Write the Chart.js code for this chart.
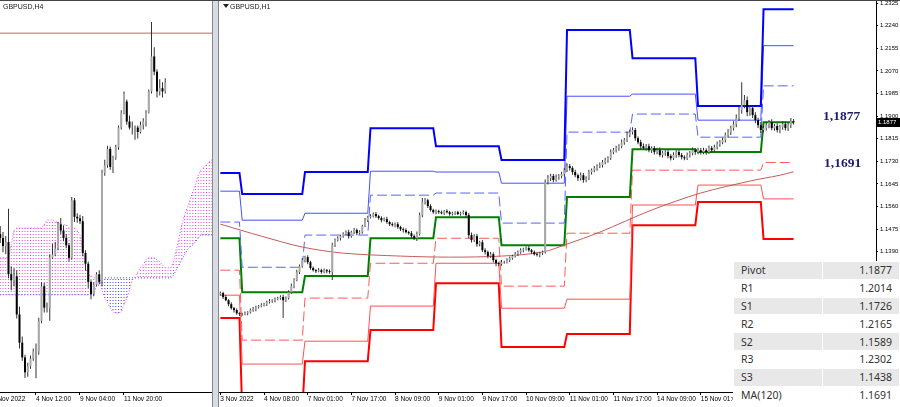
<!DOCTYPE html>
<html>
<head>
<meta charset="utf-8">
<script src="https://cdn.jsdelivr.net/npm/chart.js@4.4.0/dist/chart.umd.min.js"></script>
<style>
  html, body { margin: 0; padding: 0; background: #fff; }
  #wrap { position: relative; width: 900px; height: 407px; overflow: hidden; font-family: "Liberation Sans", Arial, sans-serif; }
  #h4box { position: absolute; left: 0; top: 0; width: 212px; height: 407px; }
  #h1box { position: absolute; left: 219px; top: 0; width: 681px; height: 407px; }
  #splitter { position: absolute; left: 212px; top: 0; width: 7px; height: 407px; background: #d8dce6;
              border-left: 1px solid #888; border-right: 1px solid #888; box-sizing: border-box; }
  #topline { position: absolute; left: 0; top: 0; width: 900px; height: 1px; background: #444; }
  .title { position: absolute; font-size: 7px; line-height: 9px; color: #222; white-space: nowrap; }
  #tri { position: absolute; left: 223px; top: 4px; width: 0; height: 0;
         border-left: 3px solid transparent; border-right: 3px solid transparent; border-top: 4px solid #222; }
  .note { position: absolute; font: bold 13.5px "Liberation Serif", "Times New Roman", serif; color: #1c1c6e; line-height: 16px; }
  #pricebox { position: absolute; left: 876px; top: 118px; width: 24px; height: 9px; background: #000; color: #fff;
              font-size: 6px; line-height: 9px; padding-left: 2px; box-sizing: border-box; }
  #piv { position: absolute; left: 733px; top: 261px; width: 167px; border-collapse: collapse;
         font: 10.5px "Noto Sans", sans-serif; color: #333; background: #fff; }
  #piv td { height: 17.8px; padding: 0 7px; border: 1px solid #fff; box-sizing: border-box; }
  #piv td.v { text-align: right; }
  #piv tr.g td { background: #e8e8e8; }
</style>
</head>
<body>
<div id="wrap">
  <div id="h4box"><canvas id="h4" width="212" height="407"></canvas></div>
  <div id="splitter"></div>
  <div id="h1box"><canvas id="h1" width="681" height="407"></canvas></div>
  <div id="topline"></div>
  <div class="title" style="left:3px;top:2px">GBPUSD,H4</div>
  <div id="tri"></div>
  <div class="title" style="left:230px;top:2px">GBPUSD,H1</div>
  <div class="note" style="left:823px;top:108px">1,1877</div>
  <div class="note" style="left:824px;top:155px">1,1691</div>
  <div id="pricebox">1.1877</div>
  <table id="piv"></table>
</div>
<script>
// ---------------- H1 panel data ----------------
const h1FirstOpen = 1.1230;

// hourly closes, 3 Nov 16:00 .. 16 Nov
const h1Close = [
  1.1235, 1.1220, 1.1208, 1.1193, 1.1178, 1.1171, 1.1159, 1.1156,
  1.1156, 1.1159, 1.1163, 1.1171, 1.1175, 1.1182, 1.1186, 1.1190, 1.1193, 1.1201, 1.1205, 1.1208, 1.1212, 1.1216, 1.1220, 1.1208, 1.1216, 1.1238, 1.1261, 1.1284, 1.1314, 1.1336, 1.1359, 1.1370,
  1.1351, 1.1329, 1.1321, 1.1317, 1.1321, 1.1314, 1.1321, 1.1317, 1.1314, 1.1415, 1.1434, 1.1441, 1.1449, 1.1457, 1.1464, 1.1449, 1.1464, 1.1472, 1.1460, 1.1464, 1.1487, 1.1509, 1.1520, 1.1524,
  1.1532, 1.1524, 1.1517, 1.1509, 1.1513, 1.1502, 1.1494, 1.1490, 1.1494, 1.1483, 1.1475, 1.1472, 1.1464, 1.1460, 1.1449, 1.1441, 1.1457, 1.1528, 1.1577, 1.1584, 1.1562, 1.1547, 1.1539, 1.1543,
  1.1539, 1.1535, 1.1543, 1.1539, 1.1532, 1.1535, 1.1539, 1.1532, 1.1535, 1.1539, 1.1528, 1.1453, 1.1434, 1.1449, 1.1419, 1.1426, 1.1396, 1.1389, 1.1374, 1.1381, 1.1359, 1.1347, 1.1344, 1.1351,
  1.1351, 1.1359, 1.1366, 1.1374, 1.1381, 1.1389, 1.1396, 1.1400, 1.1404, 1.1396, 1.1389, 1.1381, 1.1378, 1.1385, 1.1389, 1.1652, 1.1667, 1.1675, 1.1660, 1.1671, 1.1675, 1.1682, 1.1697, 1.1712,
  1.1705, 1.1690, 1.1678, 1.1667, 1.1678, 1.1660, 1.1667, 1.1690, 1.1697, 1.1705, 1.1712, 1.1716, 1.1727, 1.1735, 1.1742, 1.1765, 1.1772, 1.1780, 1.1787, 1.1802, 1.1810, 1.1829, 1.1840, 1.1848,
  1.1817, 1.1802, 1.1787, 1.1780, 1.1787, 1.1772, 1.1780, 1.1765, 1.1772, 1.1754, 1.1761, 1.1765, 1.1750, 1.1742, 1.1754, 1.1765, 1.1754, 1.1746, 1.1742, 1.1754, 1.1761, 1.1772, 1.1765, 1.1772,
  1.1765, 1.1772, 1.1765, 1.1780, 1.1772, 1.1784, 1.1795, 1.1802, 1.1810, 1.1829, 1.1840, 1.1855, 1.1870, 1.1893, 1.1923, 1.1942, 1.1960, 1.1915, 1.1930, 1.1904, 1.1885, 1.1866, 1.1848, 1.1855,
  1.1866, 1.1877, 1.1855, 1.1863, 1.1848, 1.1859, 1.1870, 1.1855, 1.1866, 1.1881, 1.1877
];

// wick lengths in pips above / below the candle body
const h1WickUp = [
  6,5,8,4,7,5,6,4,
  5,7,4,6,8,5,4,7,6,5,8,4,6,5,7,9,6,8,10,7,9,6,8,5,
  7,5,6,4,8,5,6,4,7,9,6,8,5,7,6,9,5,8,6,7,5,8,6,7,
  6,8,5,7,6,9,5,7,6,8,5,6,7,5,8,6,9,10,15,8,6,7,5,6,
  5,6,4,7,5,6,4,5,6,7,5,8,10,7,9,6,8,7,6,8,7,5,6,8,
  5,7,6,5,8,6,7,5,6,8,5,6,7,5,6,10,12,9,8,10,7,9,8,10,
  8,7,9,6,10,8,7,9,6,8,7,10,8,9,7,10,8,9,7,10,8,12,9,10,
  8,7,9,10,8,9,7,8,9,10,8,7,9,8,10,7,9,8,7,9,8,10,7,9,
  8,9,7,10,8,9,10,8,9,10,12,9,11,13,12,86,20,14,12,10,11,9,12,10,
  10,9,11,8,10,9,11,10,9,12,8
];
const h1WickDown = [
  5,7,4,8,5,9,6,7,
  6,4,7,5,6,8,5,4,6,7,5,6,8,4,6,67,7,5,6,8,5,7,6,9,
  8,6,5,7,4,6,5,8,6,30,7,5,8,6,5,9,6,7,8,5,6,4,7,5,
  5,7,6,8,5,6,7,5,8,6,7,9,5,6,8,7,10,6,8,9,7,5,6,8,
  6,4,7,5,6,5,7,4,6,5,8,12,9,7,10,8,7,9,8,6,9,11,8,6,
  6,5,7,6,5,7,6,8,5,6,7,5,6,8,7,5,9,11,8,7,10,8,9,7,
  9,10,8,11,9,10,8,7,9,8,10,7,9,8,10,7,8,9,10,8,9,7,8,9,
  9,8,10,7,9,8,10,9,8,7,9,10,8,9,7,10,8,9,8,7,9,8,10,8,
  9,8,10,7,9,8,9,10,8,9,10,11,9,12,10,14,12,15,13,11,12,10,11,9,
  9,11,8,10,9,12,10,9,11,10,8
];

// first bar of each trading day (3,4,7,8,9,10,11,14,15,16 Nov)
const h1DayStart = [0, 8, 31, 55, 79, 103, 127, 151, 175, 199];
const h1LastBar = 210;

// daily pivot levels
const pivR3 = [1.1686, 1.1607, 1.1690, 1.1855, 1.1787, 1.1735, 1.2224, 1.2118, 1.1938, 1.2302];
const pivR2 = [1.1618, 1.1509, 1.1535, 1.1693, 1.1690, 1.1648, 1.1975, 1.1983, 1.1885, 1.2165];
const pivR1 = [1.1502, 1.1332, 1.1453, 1.1603, 1.1611, 1.1498, 1.1840, 1.1908, 1.1821, 1.2014];
const pivP  = [1.1441, 1.1238, 1.1299, 1.1441, 1.1520, 1.1415, 1.1596, 1.1776, 1.1765, 1.1877];
const pivS1 = [1.1321, 1.1058, 1.1216, 1.1347, 1.1441, 1.1261, 1.1460, 1.1697, 1.1697, 1.1726];
const pivS2 = [1.1227, 1.0968, 1.1054, 1.1186, 1.1347, 1.1178, 1.1212, 1.1566, 1.1641, 1.1589];
const pivS3 = [1.1141, 1.0787, 1.0979, 1.1096, 1.1272, 1.1032, 1.1081, 1.1490, 1.1577, 1.1438];

// MA(120) read at a set of bars
const maBars   = [0, 15, 30, 45, 66, 84, 103, 118, 127, 139, 158, 176, 194, 205, 210];
const maValues = [1.1494, 1.1449, 1.1408, 1.1385, 1.1374, 1.1370, 1.1374, 1.1389, 1.1419, 1.1464, 1.1547, 1.1611, 1.1656, 1.1678, 1.1691];

const h1TickBars = [0, 16, 32, 48, 64, 80, 96, 112, 128, 144, 160, 176];
const h1TickLabels = ['3 Nov 2022', '4 Nov 08:00', '7 Nov 01:00', '7 Nov 17:00', '8 Nov 09:00', '9 Nov 01:00',
                      '9 Nov 17:00', '10 Nov 09:00', '11 Nov 01:00', '11 Nov 17:00', '14 Nov 09:00', '15 Nov 01:00'];
const priceTicks = [1.2325, 1.2240, 1.2155, 1.2070, 1.1985, 1.1900, 1.1815, 1.1730, 1.1645, 1.1560,
                    1.1475, 1.1390, 1.1305, 1.1220, 1.1135, 1.1050, 1.0965, 1.0880];

// ---------------- H4 panel data ----------------
const h4Open = [
  1.1500, 1.1490, 1.1470, 1.1480, 1.1400, 1.1385, 1.1395, 1.1300, 1.1230, 1.1193,
  1.1156, 1.1171, 1.1190, 1.1208, 1.1208, 1.1284, 1.1370, 1.1317, 1.1317, 1.1441,
  1.1449, 1.1464, 1.1524, 1.1509, 1.1490, 1.1472, 1.1441, 1.1584, 1.1543, 1.1539,
  1.1532, 1.1453, 1.1426, 1.1381, 1.1351, 1.1374, 1.1400, 1.1381, 1.1652, 1.1671,
  1.1712, 1.1667, 1.1690, 1.1716, 1.1765, 1.1802, 1.1830, 1.1780, 1.1765, 1.1765,
  1.1765, 1.1754, 1.1772, 1.1780, 1.1802, 1.1855, 1.1942, 1.1904, 1.1855, 1.1863, 1.1855
];
const h4High = [
  1.1520, 1.1505, 1.1495, 1.1563, 1.1420, 1.1415, 1.1410, 1.1320, 1.1245, 1.1200,
  1.1180, 1.1198, 1.1215, 1.1228, 1.1292, 1.1380, 1.1378, 1.1330, 1.1450, 1.1475,
  1.1480, 1.1530, 1.1540, 1.1520, 1.1500, 1.1478, 1.1592, 1.1590, 1.1552, 1.1548,
  1.1545, 1.1460, 1.1432, 1.1385, 1.1380, 1.1405, 1.1410, 1.1660, 1.1685, 1.1720,
  1.1718, 1.1695, 1.1722, 1.1770, 1.1808, 1.1855, 1.1835, 1.1795, 1.1780, 1.1770,
  1.1770, 1.1780, 1.1788, 1.1808, 1.1860, 1.2028, 1.1965, 1.1910, 1.1885, 1.1878, 1.1888
];
const h4Low = [
  1.1478, 1.1455, 1.1450, 1.1390, 1.1360, 1.1370, 1.1290, 1.1215, 1.1185, 1.1142,
  1.1145, 1.1165, 1.1185, 1.1141, 1.1200, 1.1278, 1.1305, 1.1305, 1.1284, 1.1438,
  1.1445, 1.1460, 1.1500, 1.1482, 1.1465, 1.1432, 1.1436, 1.1530, 1.1528, 1.1525,
  1.1445, 1.1410, 1.1365, 1.1338, 1.1345, 1.1370, 1.1375, 1.1370, 1.1645, 1.1665,
  1.1660, 1.1652, 1.1685, 1.1710, 1.1760, 1.1798, 1.1772, 1.1760, 1.1748, 1.1735,
  1.1738, 1.1750, 1.1760, 1.1768, 1.1800, 1.1850, 1.1895, 1.1840, 1.1845, 1.1840, 1.1850
];
const h4Close = [
  1.1490, 1.1470, 1.1480, 1.1400, 1.1385, 1.1395, 1.1300, 1.1230, 1.1193, 1.1156,
  1.1171, 1.1190, 1.1208, 1.1208, 1.1284, 1.1370, 1.1317, 1.1317, 1.1441, 1.1449,
  1.1464, 1.1524, 1.1509, 1.1490, 1.1472, 1.1441, 1.1584, 1.1543, 1.1539, 1.1532,
  1.1453, 1.1426, 1.1381, 1.1351, 1.1374, 1.1400, 1.1381, 1.1652, 1.1671, 1.1712,
  1.1667, 1.1690, 1.1716, 1.1765, 1.1802, 1.1848, 1.1780, 1.1765, 1.1765, 1.1765,
  1.1754, 1.1772, 1.1780, 1.1802, 1.1855, 1.1942, 1.1904, 1.1855, 1.1863, 1.1855, 1.1877
];

// Ichimoku senkou spans (already shifted forward)
const spanA = [
  1.1441, 1.1441, 1.1441, 1.1441, 1.1473, 1.1510, 1.1515, 1.1515, 1.1515, 1.1515,
  1.1515, 1.1515, 1.1515, 1.1515, 1.1515, 1.1515, 1.1523, 1.1535, 1.1535, 1.1535,
  1.1530, 1.1530, 1.1523, 1.1523, 1.1523, 1.1515, 1.1515, 1.1515, 1.1510, 1.1498,
  1.1461, 1.1416, 1.1398, 1.1398, 1.1391, 1.1391, 1.1386, 1.1361, 1.1341, 1.1329,
  1.1316, 1.1306, 1.1304, 1.1304, 1.1306, 1.1324, 1.1341, 1.1361, 1.1386, 1.1393,
  1.1406, 1.1416, 1.1423, 1.1436, 1.1441, 1.1441, 1.1441, 1.1436, 1.1431, 1.1423,
  1.1416, 1.1416, 1.1416, 1.1431, 1.1461, 1.1490, 1.1523, 1.1548, 1.1565, 1.1585,
  1.1605, 1.1622, 1.1647, 1.1660, 1.1667, 1.1672, 1.1680, 1.1685
];
const spanB = [
  1.1349, 1.1349, 1.1349, 1.1349, 1.1349, 1.1349, 1.1349, 1.1349, 1.1349, 1.1349,
  1.1349, 1.1349, 1.1349, 1.1349, 1.1349, 1.1349, 1.1349, 1.1349, 1.1349, 1.1349,
  1.1349, 1.1349, 1.1349, 1.1349, 1.1349, 1.1349, 1.1349, 1.1349, 1.1349, 1.1349,
  1.1349, 1.1349, 1.1349, 1.1349, 1.1349, 1.1373, 1.1373, 1.1391, 1.1391, 1.1391,
  1.1391, 1.1391, 1.1391, 1.1391, 1.1391, 1.1391, 1.1391, 1.1391, 1.1391, 1.1391,
  1.1391, 1.1391, 1.1391, 1.1391, 1.1391, 1.1391, 1.1391, 1.1391, 1.1391, 1.1391,
  1.1391, 1.1391, 1.1391, 1.1398, 1.1411, 1.1423, 1.1436, 1.1448, 1.1461, 1.1468,
  1.1473, 1.1481, 1.1490, 1.1498, 1.1498, 1.1498, 1.1498, 1.1498
];
const h4Level = 1.2000;
const h4TickBars = [-3, 13, 29, 45];
const h4TickLabels = ['2 Nov 2022', '4 Nov 12:00', '9 Nov 04:00', '11 Nov 20:00'];

// ---------------- Table ----------------
const tableLabels = ['Pivot', 'R1', 'S1', 'R2', 'S2', 'R3', 'S3', 'MA(120)'];
const tableValues = ['1.1877', '1.2014', '1.1726', '1.2165', '1.1589', '1.2302', '1.1438', '1.1691'];

// ---------------- helpers ----------------
Chart.defaults.font.family = '"Liberation Sans", Arial, sans-serif';
const BULL = '#a8a8a8';
const BEAR = '#000000';

function candleSets(opens, highs, lows, closes) {
    const wicks = [];
    const bodies = [];
    const colors = [];
    closes.forEach((c, i) => {
        wicks.push({ x: i, y: [lows[i], highs[i]] });
        bodies.push({ x: i, y: [opens[i], c] });
        colors.push(c >= opens[i] ? BULL : BEAR);
    });
    return [
        { type: 'bar', data: bodies, backgroundColor: colors, barThickness: 2, grouped: false, inflateAmount: 0, order: 0 },
        { type: 'bar', data: wicks, backgroundColor: '#333', barThickness: 1, grouped: false, inflateAmount: 0, order: 1 }
    ];
}

function pivotLine(levels, color, width, dash) {
    const pts = [];
    levels.forEach((v, d) => {
        const end = d + 1 < h1DayStart.length ? h1DayStart[d + 1] - 1 : h1LastBar;
        pts.push({ x: h1DayStart[d], y: v }, { x: end, y: v });
    });
    return {
        type: 'line', data: pts, borderColor: color, borderWidth: width, borderDash: dash || [],
        pointRadius: 0, tension: 0, fill: false, order: 3
    };
}

function dotPattern(color) {
    const c = document.createElement('canvas');
    c.width = 1;
    c.height = 3;
    const g = c.getContext('2d');
    g.fillStyle = color;
    g.fillRect(0, 0, 1, 1);
    return g.createPattern(c, 'repeat');
}

function timeAxis(min, max, bars, labels) {
    return {
        type: 'linear', min: min, max: max, position: 'bottom', offset: false, bounds: 'data',
        grid: { display: true, offset: false, drawOnChartArea: false, drawTicks: true, tickLength: 3, color: '#000' },
        border: { display: true, color: '#000' },
        ticks: {
            autoSkip: false, maxRotation: 0, minRotation: 0, align: 'start', padding: 0,
            font: { size: 6.5 }, color: '#000',
            callback: (v, i) => labels[i]
        },
        afterBuildTicks: s => { s.ticks = bars.map(v => ({ value: v })); },
        afterFit: s => { s.height = 15; s.paddingLeft = 0; s.paddingRight = 0; }
    };
}

const baseOptions = {
    responsive: false,
    animation: false,
    devicePixelRatio: 1,
    events: [],
    layout: { padding: { top: 1, left: 0, right: 0, bottom: 0 } },
    plugins: { legend: { display: false }, tooltip: { enabled: false } }
};

// ---------------- H1 chart ----------------
const h1Open = h1Close.map((c, i) => i === 0 ? h1FirstOpen : h1Close[i - 1]);
const h1High = h1Close.map((c, i) => Math.max(h1Open[i], c) + h1WickUp[i] / 10000);
const h1Low = h1Close.map((c, i) => Math.min(h1Open[i], c) - h1WickDown[i] / 10000);

const h1Sets = candleSets(h1Open, h1High, h1Low, h1Close).concat([
    pivotLine(pivR3, '#0000ff', 2),
    pivotLine(pivR2, 'rgb(70,80,255)', 1),
    pivotLine(pivR1, 'rgb(90,100,255)', 1, [10, 4]),
    pivotLine(pivP, '#008000', 2),
    pivotLine(pivS1, 'rgb(255,90,90)', 1, [10, 4]),
    pivotLine(pivS2, 'rgb(255,80,80)', 1),
    pivotLine(pivS3, '#ff0000', 2),
    {
        type: 'line', data: maBars.map((b, i) => ({ x: b, y: maValues[i] })),
        borderColor: 'rgb(200,90,90)', borderWidth: 1, pointRadius: 0, tension: 0.3, fill: false, order: 2
    }
]);

new Chart(document.getElementById('h1'), {
    type: 'bar',
    data: { datasets: h1Sets },
    options: Object.assign({}, baseOptions, {
        scales: {
            x: timeAxis(-0.5, 240.2, h1TickBars, h1TickLabels),
            y: {
                type: 'linear', position: 'right', min: 1.0863, max: 1.2333, bounds: 'data',
                grid: { display: true, drawOnChartArea: false, drawTicks: true, tickLength: 2, color: '#000' },
                border: { display: true, color: '#000' },
                ticks: { font: { size: 6 }, color: '#000', padding: 2, callback: v => v.toFixed(4) },
                afterBuildTicks: s => { s.ticks = priceTicks.map(v => ({ value: v })); },
                afterFit: s => { s.width = 24; s.paddingTop = 0; s.paddingBottom = 0; }
            }
        }
    })
});

// ---------------- H4 chart ----------------
const pinkDots = dotPattern('#ee44ee');
const blueDots = dotPattern('#4444ff');
const cloudBars = spanA.map((a, k) => ({ x: k, y: [Math.min(a, spanB[k]), Math.max(a, spanB[k])] }));
const cloudColors = spanA.map((a, k) => a >= spanB[k] ? pinkDots : blueDots);

const h4Sets = candleSets(h4Open, h4High, h4Low, h4Close).concat([
    { type: 'bar', data: cloudBars, backgroundColor: cloudColors, barThickness: 1, grouped: false, inflateAmount: 0, order: 6 },
    {
        type: 'line', data: spanA.map((v, k) => ({ x: k, y: v })), borderColor: '#ee44ee', borderWidth: 1,
        borderDash: [1, 2], pointRadius: 0, tension: 0, fill: false, order: 5
    },
    {
        type: 'line', data: spanB.map((v, k) => ({ x: k, y: v })), borderColor: '#4444ff', borderWidth: 1,
        borderDash: [1, 2], pointRadius: 0, tension: 0, fill: false, order: 5
    },
    {
        type: 'line', data: [{ x: -1, y: h4Level }, { x: 78, y: h4Level }], borderColor: 'rgb(200,100,100)',
        borderWidth: 1, pointRadius: 0, fill: false, order: 4
    }
]);

new Chart(document.getElementById('h4'), {
    type: 'bar',
    data: { datasets: h4Sets },
    options: Object.assign({}, baseOptions, {
        scales: {
            x: timeAxis(-0.09, 77, h4TickBars, h4TickLabels),
            y: { type: 'linear', display: false, min: 1.1107, max: 1.2080, bounds: 'data' }
        }
    })
});

// ---------------- pivot table ----------------
const table = document.getElementById('piv');
tableLabels.forEach((lab, i) => {
    const tr = document.createElement('tr');
    if (i % 2 === 0) tr.className = 'g';
    const a = document.createElement('td');
    a.textContent = lab;
    const b = document.createElement('td');
    b.className = 'v';
    b.textContent = tableValues[i];
    tr.appendChild(a);
    tr.appendChild(b);
    table.appendChild(tr);
});
</script>
</body>
</html>
